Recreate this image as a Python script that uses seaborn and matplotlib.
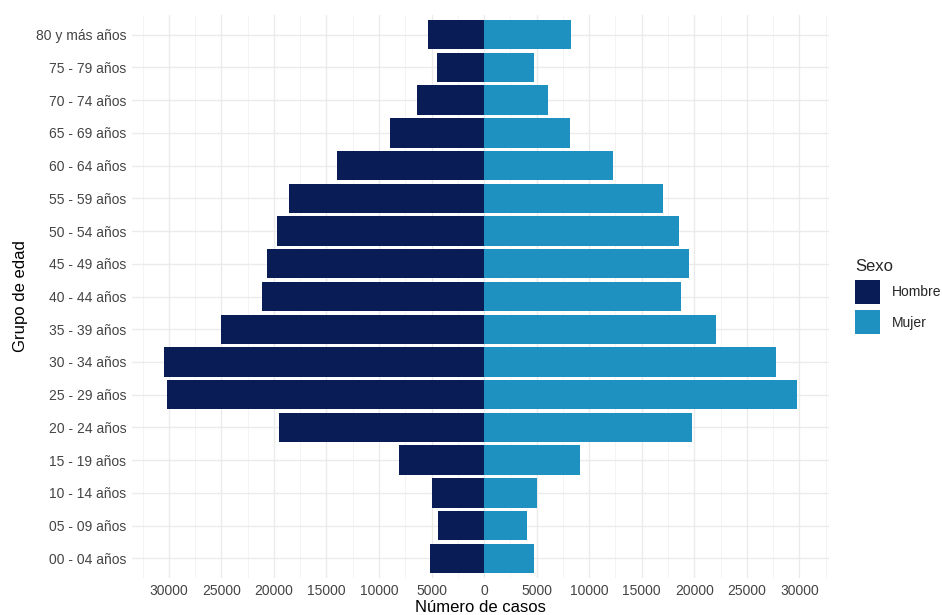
import numpy as np
import pandas as pd
import seaborn as sns
import matplotlib.pyplot as plt
from matplotlib.ticker import FuncFormatter, MultipleLocator

# datos (de mayor a menor edad)
grupos = ["80 y más años", "75 - 79 años", "70 - 74 años", "65 - 69 años",
          "60 - 64 años", "55 - 59 años", "50 - 54 años", "45 - 49 años",
          "40 - 44 años", "35 - 39 años", "30 - 34 años", "25 - 29 años",
          "20 - 24 años", "15 - 19 años", "10 - 14 años", "05 - 09 años",
          "00 - 04 años"]
hombre = [5360, 4480, 6430, 8940, 13970, 18560, 19720, 20700, 21120,
          25000, 30490, 30150, 19560, 8110, 4980, 4390, 5110]
mujer = [8300, 4730, 6130, 8220, 12270, 17040, 18570, 19460, 18740,
         22100, 27810, 29810, 19800, 9160, 5060, 4130, 4730]
colores = {"Hombre": "#0A1C56", "Mujer": "#1F91C1"}

df = pd.concat([
    pd.DataFrame({"grupo": grupos, "casos": [-v for v in hombre], "Sexo": "Hombre"}),
    pd.DataFrame({"grupo": grupos, "casos": mujer, "Sexo": "Mujer"}),
])

sns.set_theme(style="whitegrid")
plt.rcParams["font.family"] = ["Liberation Sans", "DejaVu Sans"]

fig = plt.figure(figsize=(9.42, 6.15), dpi=100)
ax = fig.add_axes([132 / 942, 1 - 578 / 615, (829 - 132) / 942, (578 - 15) / 615])

sns.barplot(data=df, x="casos", y="grupo", hue="Sexo", order=grupos,
            palette=colores, saturation=1, dodge=False, width=0.9, orient="h",
            edgecolor="none", linewidth=0, ax=ax)

lo, hi = min(df["casos"]), max(df["casos"])
pad = 0.05 * (hi - lo)
ax.set_xlim(lo - pad, hi + pad)
ax.set_ylim(len(grupos) - 1 + 0.6, -0.6)

ax.xaxis.set_major_locator(MultipleLocator(5000))
ax.xaxis.set_minor_locator(MultipleLocator(2500))
ax.xaxis.set_major_formatter(FuncFormatter(lambda v, p: f"{abs(int(round(v)))}"))
ax.grid(which="major", color="#EBEBEB", linewidth=1.0)
ax.grid(which="minor", axis="x", color="#F3F3F3", linewidth=0.6)
ax.set_axisbelow(True)
for s in ax.spines.values():
    s.set_visible(False)
ax.tick_params(axis="both", length=0, labelsize=10, colors="#444444", pad=4)

ax.set_xlabel("Número de casos", fontsize=12, color="black", labelpad=2)
ax.set_ylabel("Grupo de edad", fontsize=12, color="black", labelpad=6)

leg = ax.legend(title="Sexo", loc="center left", bbox_to_anchor=(1.02, 0.5),
                frameon=False, fontsize=10, title_fontsize=12,
                handlelength=1.8, handleheight=2.3, handletextpad=0.8,
                labelspacing=0.45)
leg._legend_box.align = "left"

fig.savefig("out.png", dpi=100)
